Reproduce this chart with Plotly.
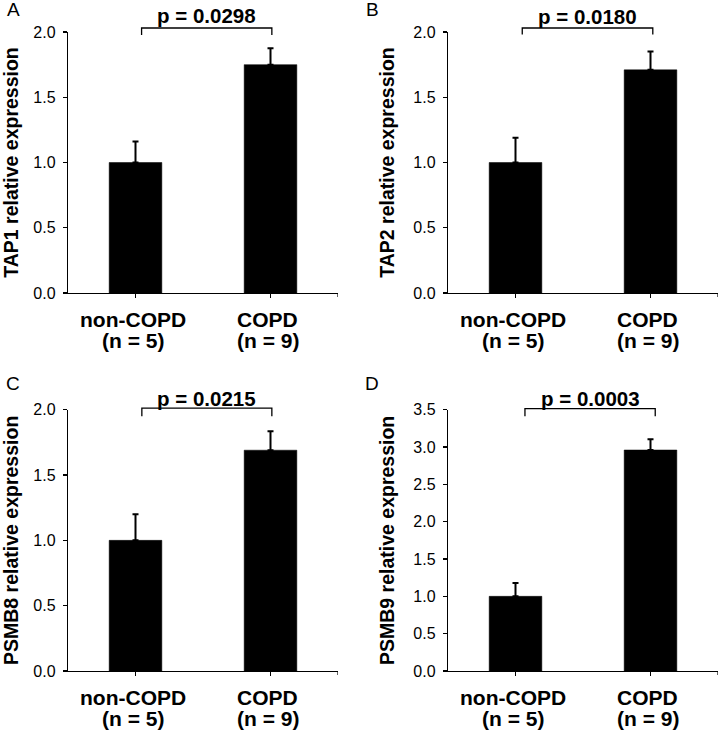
import plotly.graph_objects as go

# ---- data ----
categories = ["non-COPD", "COPD"]
group_sizes = ["(n = 5)", "(n = 9)"]
panel_letters = ["A", "B", "C", "D"]
genes = ["TAP1", "TAP2", "PSMB8", "PSMB9"]
p_values = ["p = 0.0298", "p = 0.0180", "p = 0.0215", "p = 0.0003"]

tap1_mean = [1.00, 1.75]
tap1_err = [0.16, 0.125]
tap2_mean = [1.00, 1.71]
tap2_err = [0.19, 0.14]
psmb8_mean = [1.00, 1.69]
psmb8_err = [0.20, 0.145]
psmb9_mean = [1.00, 2.96]
psmb9_err = [0.18, 0.145]

y_max = [2.0, 2.0, 2.0, 3.5]
y_dtick = [0.5, 0.5, 0.5, 0.5]

means = [tap1_mean, tap2_mean, psmb8_mean, psmb9_mean]
errs = [tap1_err, tap2_err, psmb8_err, psmb9_err]

# ---- layout geometry (pixels) ----
W, H = 721, 734
col_x = [(68, 338), (448, 718)]
row_y = [(32, 293), (409.7, 671)]
# bracket: left/right x in category units, horizontal offset above top (px), drop below top (px)
brackets = [(0.045, 1.01, 4, 3), (0.05, 1.017, 4, 2.5), (0.047, 1.01, 1.5, 6.5), (0.07, 1.035, 1, 6.5)]
p_gap = [13, 11.5, 9.5, 10.5]

FONT = "Liberation Sans, Arial, Helvetica, sans-serif"

fig = go.Figure()
annotations = []
shapes = []

for i in range(4):
    r, c = divmod(i, 2)
    ax = "" if i == 0 else str(i + 1)
    xa, ya = "x" + ax, "y" + ax
    x0, x1 = col_x[c]
    top, bot = row_y[r]
    ph = bot - top

    fig.add_trace(go.Bar(
        x=categories, y=means[i],
        marker=dict(color="black", line=dict(color="black", width=0.5)),
        width=0.39,
        error_y=dict(type="data", symmetric=False, array=errs[i],
                     arrayminus=[0] * len(errs[i]),
                     color="black", thickness=2, width=3),
        xaxis=xa, yaxis=ya, showlegend=False,
    ))

    fig.layout["xaxis" + ax] = dict(
        domain=[x0 / W, x1 / W], anchor=ya, type="category", automargin=False,
        range=[-0.5, 1.5], showline=True, linecolor="black", linewidth=1.2,
        ticks="outside", ticklen=4, tickcolor="black", tickwidth=1.2,
        showticklabels=False, showgrid=False, zeroline=False, fixedrange=True,
    )
    fig.layout["yaxis" + ax] = dict(
        domain=[1 - bot / H, 1 - top / H], anchor=xa, automargin=False,
        range=[0, y_max[i]], dtick=y_dtick[i], tick0=0, tickformat=".1f",
        showline=True, linecolor="black", linewidth=1.2,
        ticks="outside", ticklen=4, tickcolor="black", tickwidth=1.2,
        ticklabelstandoff=4,
        tickfont=dict(family=FONT, size=16, color="black"),
        showgrid=False, zeroline=False, fixedrange=True,
        title=dict(text="<b>%s relative expression</b>" % genes[i],
                   font=dict(family=FONT, size=19.5, color="black"), standoff=13),
    )

    # category labels (two lines)
    for k, cat in enumerate(categories):
        annotations.append(dict(
            x=cat, y=0, xref=xa, yref=ya + " domain", text="<b>%s</b>" % cat,
            showarrow=False, yanchor="middle", xanchor="center", yshift=-26.5, xshift=-3,
            font=dict(family=FONT, size=21, color="black")))
        annotations.append(dict(
            x=cat, y=0, xref=xa, yref=ya + " domain", text="<b>%s</b>" % group_sizes[k],
            showarrow=False, yanchor="middle", xanchor="center", yshift=-47.5, xshift=-3,
            font=dict(family=FONT, size=21, color="black")))

    # right-end tick of x axis
    shapes.append(dict(type="line", xref=xa, yref=ya + " domain",
                       x0=1.5, x1=1.5, y0=0, y1=-4 / ph,
                       line=dict(color="black", width=1.2)))

    # significance bracket
    bl, br, up, down = brackets[i]
    yh = 1 + up / ph
    yd = 1 - down / ph
    shapes.append(dict(type="path", xref=xa, yref=ya + " domain",
                       path="M %f,%f L %f,%f L %f,%f L %f,%f" % (bl, yd, bl, yh, br, yh, br, yd),
                       line=dict(color="black", width=1.3)))
    annotations.append(dict(
        x=(bl + br) / 2, y=yh, xref=xa, yref=ya + " domain",
        text="<b>%s</b>" % p_values[i], showarrow=False,
        yanchor="middle", xanchor="center", yshift=p_gap[i],
        font=dict(family=FONT, size=20.5, color="black")))

    # panel letter
    lx = [13, 372][c]
    ly = [10, 384][r]
    annotations.append(dict(
        x=lx / W, y=1 - ly / H, xref="paper", yref="paper", text=panel_letters[i],
        showarrow=False, xanchor="center", yanchor="middle",
        font=dict(family=FONT, size=19, color="black")))

fig.update_layout(
    width=W, height=H, autosize=False,
    margin=dict(l=0, r=0, t=0, b=0),
    paper_bgcolor="white", plot_bgcolor="white",
    annotations=annotations, shapes=shapes,
)

fig.write_html("out.html", config={"displayModeBar": False, "staticPlot": True})

# remove the browser's default 8px body margin so the figure fills the window
with open("out.html", "r", encoding="utf-8") as f:
    html = f.read()
html = html.replace("<head>", "<head><style>html,body{margin:0;padding:0;overflow:hidden;}</style>", 1)
with open("out.html", "w", encoding="utf-8") as f:
    f.write(html)
